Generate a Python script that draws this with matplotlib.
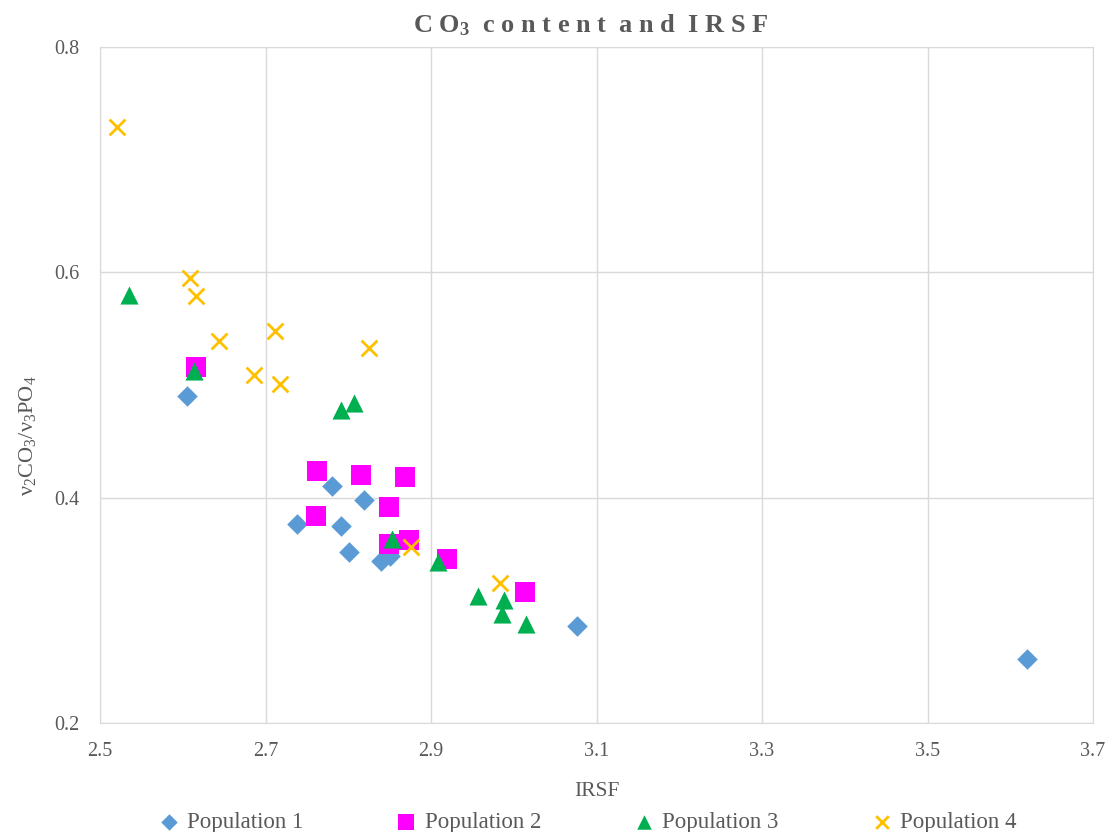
import matplotlib
matplotlib.use("Agg")
import matplotlib.pyplot as plt

plt.rcParams['font.family'] = ['Liberation Serif', 'DejaVu Serif']
plt.rcParams['mathtext.fontset'] = 'custom'
plt.rcParams['mathtext.rm'] = 'Liberation Serif'
plt.rcParams['mathtext.it'] = 'Liberation Serif:italic'
plt.rcParams['mathtext.bf'] = 'Liberation Serif:bold'

# Data
pop1_x = [2.605, 2.780, 2.819, 2.738, 2.791, 2.801, 2.839, 2.850, 3.076, 3.620]
pop1_y = [0.490, 0.410, 0.398, 0.377, 0.375, 0.352, 0.344, 0.348, 0.286, 0.257]

pop2_x = [2.616, 2.762, 2.815, 2.868, 2.849, 2.761, 2.849, 2.874, 2.919, 3.013]
pop2_y = [0.516, 0.424, 0.420, 0.418, 0.392, 0.384, 0.359, 0.362, 0.346, 0.316]

pop3_x = [2.535, 2.613, 2.791, 2.807, 2.853, 2.909, 2.957, 2.988, 2.986, 3.015]
pop3_y = [0.580, 0.512, 0.478, 0.484, 0.363, 0.343, 0.313, 0.309, 0.297, 0.288]

pop4_x = [2.520, 2.609, 2.616, 2.644, 2.712, 2.686, 2.718, 2.825, 2.876, 2.983]
pop4_y = [0.729, 0.595, 0.579, 0.539, 0.548, 0.509, 0.501, 0.533, 0.356, 0.324]

labels = ['Population 1', 'Population 2', 'Population 3', 'Population 4']
x_ticks = [2.5, 2.7, 2.9, 3.1, 3.3, 3.5, 3.7]
y_ticks = [0.2, 0.4, 0.6, 0.8]

fig = plt.figure(figsize=(11.14, 8.32), dpi=100)
ax = fig.add_axes([100/1114, 1-723/832, (1093-100)/1114, (723-47)/832])

ax.scatter(pop1_x, pop1_y, marker='D', s=110, color='#5B9BD5', label=labels[0], zorder=3, linewidths=0)
ax.scatter(pop2_x, pop2_y, marker='s', s=200, color='#FF00FF', label=labels[1], zorder=3, linewidths=0)
ax.scatter(pop3_x, pop3_y, marker='^', s=170, color='#00B050', label=labels[2], zorder=3, linewidths=0)
ax.scatter(pop4_x, pop4_y, marker='x', s=130, color='#FFC000', label=labels[3], zorder=3, linewidths=2)

ax.set_xlim(2.5, 3.7)
ax.set_ylim(0.2, 0.8)
ax.set_xticks(x_ticks)
ax.set_yticks(y_ticks)
ax.set_xticklabels([f'{v:.1f}' for v in x_ticks])
ax.set_yticklabels([f'{v:.1f}' for v in y_ticks])
ax.grid(True, color='#D9D9D9', linewidth=1)
ax.set_axisbelow(True)
for s in ax.spines.values():
    s.set_color('#D9D9D9')
ax.tick_params(length=0, labelsize=14.5, colors='#595959')
ax.tick_params(axis='x', pad=14)
ax.tick_params(axis='y', pad=15)

ax.set_xlabel('IRSF', fontsize=15.5, color='#595959')
ax.xaxis.set_label_coords(0.5, -(792-723)/676, transform=ax.transAxes)
ax.xaxis.label.set_va('center')
ax.set_ylabel('ν$_2$CO$_3$/ν$_3$PO$_4$', fontsize=16, color='#595959')
ax.yaxis.set_label_coords(-(100-27)/993, (723-436)/676)
ax.yaxis.label.set_va('center')

fig.text(591/1114, 1-25/832,
         r'C O$_\mathbf{3}$  c o n t e n t  a n d  I R S F',
         ha='center', va='center', fontsize=19, fontweight='bold', color='#595959')

leg = fig.legend(loc='center', bbox_to_anchor=(587/1114, 1-822/832), ncol=4, frameon=False,
                 fontsize=16.5, labelcolor='#595959', handletextpad=0.3, columnspacing=4.0,
                 handlelength=1.0, markerscale=0.8, borderpad=0, borderaxespad=0)

fig.savefig('out.png', dpi=100)
